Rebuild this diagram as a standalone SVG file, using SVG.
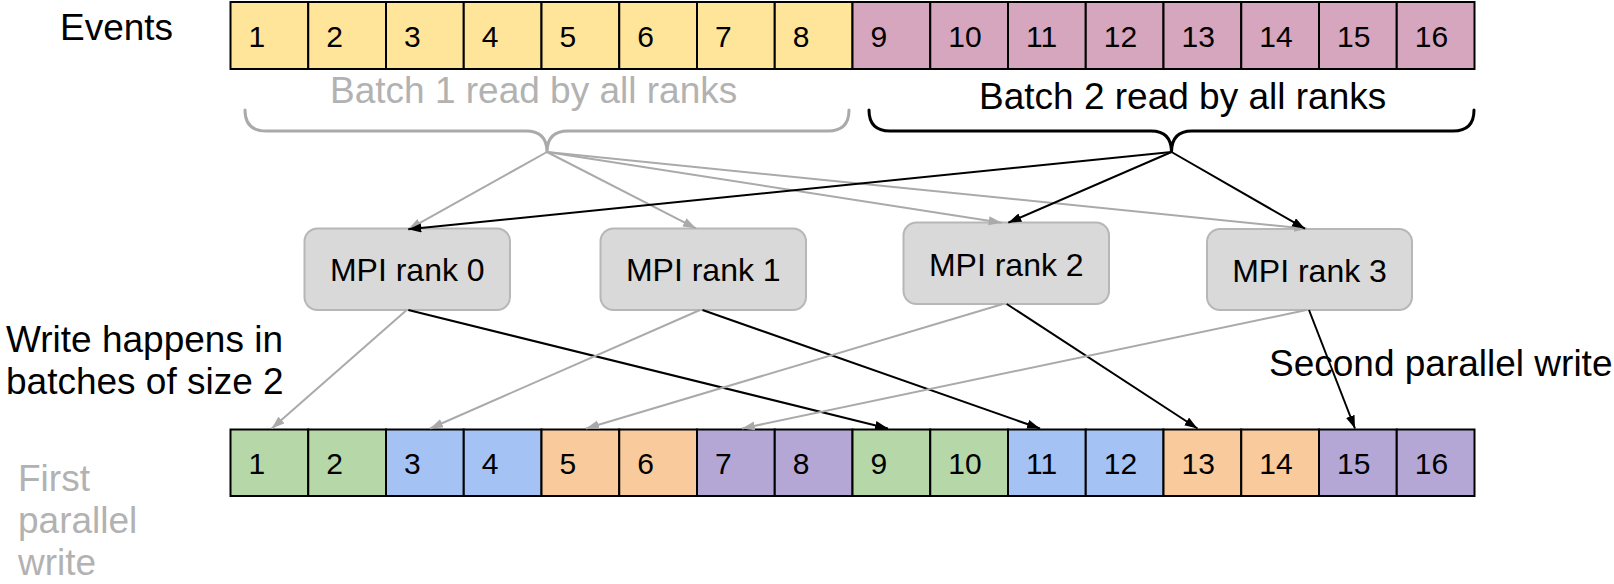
<svg xmlns="http://www.w3.org/2000/svg" width="1614" height="584" viewBox="0 0 1614 584">
<style>
.cell{stroke:#000;stroke-width:2}
.y{fill:#ffe599}.p{fill:#d5a6bd}.g{fill:#b6d7a8}.b{fill:#a4c2f4}.o{fill:#f9cb9c}.v{fill:#b4a7d6}
.num{font-family:"Liberation Sans",Arial,sans-serif;font-size:30px;fill:#000}
.lbl{font-family:"Liberation Sans",Arial,sans-serif;font-size:37px;fill:#000}
.glbl{font-family:"Liberation Sans",Arial,sans-serif;font-size:37px;fill:#b2b2b2}
.node rect{fill:#d9d9d9;stroke:#b7b7b7;stroke-width:2}
.node text{font-family:"Liberation Sans",Arial,sans-serif;font-size:32px;fill:#000;text-anchor:middle}
.gl{stroke:#aaaaaa;stroke-width:2;fill:none;marker-end:url(#ag)}
.bl{stroke:#000;stroke-width:2;fill:none;marker-end:url(#ab)}
.brace{fill:none;stroke-width:3;stroke-linecap:round}
</style>
<defs>
<marker id="ag" markerUnits="userSpaceOnUse" markerWidth="14" markerHeight="10" refX="13" refY="4.5" orient="auto"><path d="M0,0 L13,4.5 L0,9 z" fill="#aaaaaa"/></marker>
<marker id="ab" markerUnits="userSpaceOnUse" markerWidth="14" markerHeight="10" refX="13" refY="4.5" orient="auto"><path d="M0,0 L13,4.5 L0,9 z" fill="#000"/></marker>
</defs>

<g id="labels">
<text class="lbl" x="60" y="40">Events</text>
<text class="glbl" x="330" y="103">Batch 1 read by all ranks</text>
<text class="lbl" x="979" y="109">Batch 2 read by all ranks</text>
<text class="lbl" x="6" y="352">Write happens in</text>
<text class="lbl" x="6" y="394">batches of size 2</text>
<text class="glbl" x="18" y="491">First</text>
<text class="glbl" x="18" y="533">parallel</text>
<text class="glbl" x="18" y="575">write</text>
<text class="lbl" x="1269" y="376">Second parallel write</text>
</g>

<g id="braces">
<path class="brace" stroke="#aaaaaa" d="M245,110 C245,124 252,131 266,131 L526,131 C540,131 547,138 547,152 C547,138 554,131 568,131 L828,131 C842,131 849,124 849,110"/>
<path class="brace" stroke="#000" d="M869,110 C869,124 876,131 890,131 L1151,131 C1165,131 1171.5,138 1171.5,152 C1171.5,138 1178,131 1192,131 L1453,131 C1467,131 1474,124 1474,110"/>
</g>

<g id="top-row">
<g id="t1"><rect class="cell y" x="230.5" y="2" width="77.75" height="67"/><text class="num" x="248.5" y="46.5">1</text></g>
<g id="t2"><rect class="cell y" x="308.25" y="2" width="77.75" height="67"/><text class="num" x="326.25" y="46.5">2</text></g>
<g id="t3"><rect class="cell y" x="386" y="2" width="77.75" height="67"/><text class="num" x="404" y="46.5">3</text></g>
<g id="t4"><rect class="cell y" x="463.75" y="2" width="77.75" height="67"/><text class="num" x="481.75" y="46.5">4</text></g>
<g id="t5"><rect class="cell y" x="541.5" y="2" width="77.75" height="67"/><text class="num" x="559.5" y="46.5">5</text></g>
<g id="t6"><rect class="cell y" x="619.25" y="2" width="77.75" height="67"/><text class="num" x="637.25" y="46.5">6</text></g>
<g id="t7"><rect class="cell y" x="697" y="2" width="77.75" height="67"/><text class="num" x="715" y="46.5">7</text></g>
<g id="t8"><rect class="cell y" x="774.75" y="2" width="77.75" height="67"/><text class="num" x="792.75" y="46.5">8</text></g>
<g id="t9"><rect class="cell p" x="852.5" y="2" width="77.75" height="67"/><text class="num" x="870.5" y="46.5">9</text></g>
<g id="t10"><rect class="cell p" x="930.25" y="2" width="77.75" height="67"/><text class="num" x="948.25" y="46.5">10</text></g>
<g id="t11"><rect class="cell p" x="1008" y="2" width="77.75" height="67"/><text class="num" x="1026" y="46.5">11</text></g>
<g id="t12"><rect class="cell p" x="1085.75" y="2" width="77.75" height="67"/><text class="num" x="1103.75" y="46.5">12</text></g>
<g id="t13"><rect class="cell p" x="1163.5" y="2" width="77.75" height="67"/><text class="num" x="1181.5" y="46.5">13</text></g>
<g id="t14"><rect class="cell p" x="1241.25" y="2" width="77.75" height="67"/><text class="num" x="1259.25" y="46.5">14</text></g>
<g id="t15"><rect class="cell p" x="1319" y="2" width="77.75" height="67"/><text class="num" x="1337" y="46.5">15</text></g>
<g id="t16"><rect class="cell p" x="1396.75" y="2" width="77.75" height="67"/><text class="num" x="1414.75" y="46.5">16</text></g>
</g>

<g id="bottom-row">
<g id="b1"><rect class="cell g" x="230.5" y="429.5" width="77.75" height="66.5"/><text class="num" x="248.5" y="474">1</text></g>
<g id="b2"><rect class="cell g" x="308.25" y="429.5" width="77.75" height="66.5"/><text class="num" x="326.25" y="474">2</text></g>
<g id="b3"><rect class="cell b" x="386" y="429.5" width="77.75" height="66.5"/><text class="num" x="404" y="474">3</text></g>
<g id="b4"><rect class="cell b" x="463.75" y="429.5" width="77.75" height="66.5"/><text class="num" x="481.75" y="474">4</text></g>
<g id="b5"><rect class="cell o" x="541.5" y="429.5" width="77.75" height="66.5"/><text class="num" x="559.5" y="474">5</text></g>
<g id="b6"><rect class="cell o" x="619.25" y="429.5" width="77.75" height="66.5"/><text class="num" x="637.25" y="474">6</text></g>
<g id="b7"><rect class="cell v" x="697" y="429.5" width="77.75" height="66.5"/><text class="num" x="715" y="474">7</text></g>
<g id="b8"><rect class="cell v" x="774.75" y="429.5" width="77.75" height="66.5"/><text class="num" x="792.75" y="474">8</text></g>
<g id="b9"><rect class="cell g" x="852.5" y="429.5" width="77.75" height="66.5"/><text class="num" x="870.5" y="474">9</text></g>
<g id="b10"><rect class="cell g" x="930.25" y="429.5" width="77.75" height="66.5"/><text class="num" x="948.25" y="474">10</text></g>
<g id="b11"><rect class="cell b" x="1008" y="429.5" width="77.75" height="66.5"/><text class="num" x="1026" y="474">11</text></g>
<g id="b12"><rect class="cell b" x="1085.75" y="429.5" width="77.75" height="66.5"/><text class="num" x="1103.75" y="474">12</text></g>
<g id="b13"><rect class="cell o" x="1163.5" y="429.5" width="77.75" height="66.5"/><text class="num" x="1181.5" y="474">13</text></g>
<g id="b14"><rect class="cell o" x="1241.25" y="429.5" width="77.75" height="66.5"/><text class="num" x="1259.25" y="474">14</text></g>
<g id="b15"><rect class="cell v" x="1319" y="429.5" width="77.75" height="66.5"/><text class="num" x="1337" y="474">15</text></g>
<g id="b16"><rect class="cell v" x="1396.75" y="429.5" width="77.75" height="66.5"/><text class="num" x="1414.75" y="474">16</text></g>
</g>

<g id="rank0" class="node"><rect x="304.5" y="228.5" width="205.5" height="81.5" rx="13"/><text x="407.25" y="281">MPI rank 0</text></g>
<g id="rank1" class="node"><rect x="600.5" y="228.5" width="205.5" height="81.5" rx="13"/><text x="703.25" y="281">MPI rank 1</text></g>
<g id="rank2" class="node"><rect x="903.5" y="222.5" width="205.5" height="81.5" rx="13"/><text x="1006.25" y="275.5">MPI rank 2</text></g>
<g id="rank3" class="node"><rect x="1207" y="229" width="205" height="81" rx="13"/><text x="1309.5" y="281.5">MPI rank 3</text></g>

<g id="connectors">
<line class="gl" x1="547" y1="152" x2="408.3" y2="229.3"/>
<line class="gl" x1="547" y1="152" x2="696" y2="228.3"/>
<line class="gl" x1="547" y1="152" x2="1001.7" y2="222.7"/>
<line class="gl" x1="547" y1="152" x2="1307" y2="228.7"/>
<line class="bl" x1="1171.5" y1="152" x2="408.3" y2="229.3"/>
<line class="bl" x1="1171.5" y1="152" x2="1008.3" y2="222.7"/>
<line class="bl" x1="1171.5" y1="152" x2="1305" y2="228.7"/>
<line class="gl" x1="406.7" y1="310" x2="271.7" y2="428.5"/>
<line class="bl" x1="408.3" y1="310" x2="888" y2="428.5"/>
<line class="gl" x1="700" y1="310" x2="430" y2="428.5"/>
<line class="bl" x1="702.5" y1="310" x2="1040" y2="428.5"/>
<line class="gl" x1="1003" y1="304" x2="586" y2="428.5"/>
<line class="bl" x1="1006.7" y1="304" x2="1197.5" y2="428.5"/>
<line class="gl" x1="1306.5" y1="310" x2="742" y2="428.5"/>
<line class="bl" x1="1309" y1="310" x2="1355" y2="428.5"/>
</g>
</svg>
